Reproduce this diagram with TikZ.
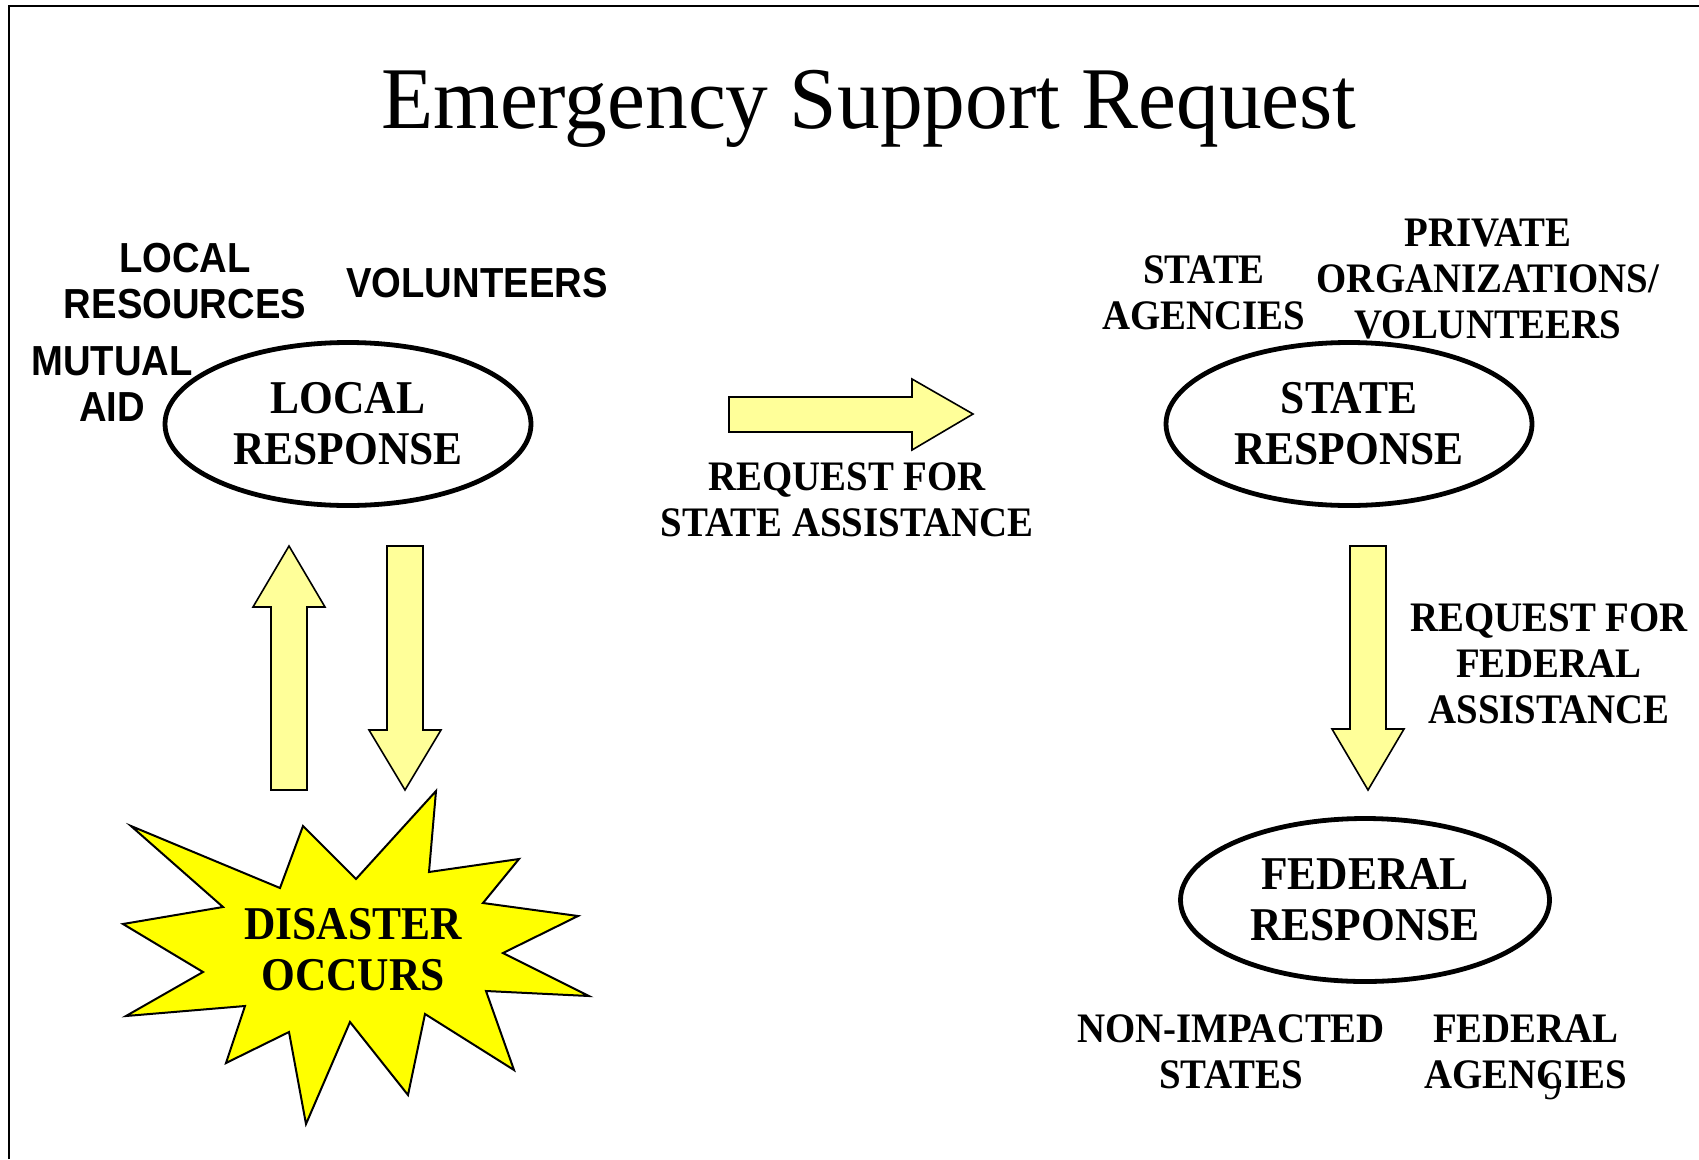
\documentclass[tikz,border=0pt]{standalone}
\usepackage{fontspec}
\setmainfont{Liberation Serif}
\newfontfamily\titleserif{Liberation Serif}[FakeStretch=0.97]
\newfontfamily\slideserif{Liberation Serif}[FakeStretch=0.925]
\newfontfamily\slidesans{Liberation Sans}[FakeStretch=0.91]
\usetikzlibrary{shapes}
\usepackage{xcolor}
\definecolor{pale}{HTML}{FFFF99}
\definecolor{burst}{HTML}{FFFF00}

\tikzset{
	heading/.style={inner sep=0pt, anchor=base, font=\titleserif\fontsize{88}{100}\selectfont},
	response/.style={ellipse, draw, line width=4.8pt, minimum width=366pt, minimum height=163pt, inner sep=0pt, align=center, font=\slideserif\bfseries\fontsize{47}{51}\selectfont},
	serifnote/.style={inner sep=0pt, align=center, font=\slideserif\bfseries\fontsize{42}{46}\selectfont},
	sansnote/.style={inner sep=0pt, align=center, font=\slidesans\bfseries\fontsize{42}{46}\selectfont},
	bigarrow/.style={draw, fill=pale, line width=1.6pt, line join=miter},
}

\begin{document}
\begin{tikzpicture}[x=1pt, y=-1pt]
			\fill[white] (0,0) rectangle (1699,1159);
			\useasboundingbox (0,0) rectangle (1699,1159);
			\draw[line width=2pt] (9,1159) -- (9,6) -- (1699,6);
			\node[heading] (title) at (869,128) {Emergency Support Request};
			\draw[bigarrow] (271,790) -- (271,607) -- (253,607) -- (289,546) -- (325,607) -- (307,607) -- (307,790) -- cycle;
			\draw[bigarrow] (387,546) -- (387,730) -- (369,730) -- (405,790) -- (441,730) -- (423,730) -- (423,546) -- cycle;
			\draw[bigarrow] (729,397) -- (912,397) -- (912,379) -- (973,414) -- (912,450) -- (912,432) -- (729,432) -- cycle;
			\draw[bigarrow] (1350,546) -- (1350,729) -- (1332,729) -- (1368,790) -- (1404,729) -- (1386,729) -- (1386,546) -- cycle;
			\draw[fill=burst, line width=2pt, line join=miter] (436,791) -- (429,872) -- (519,859) -- (483,903) -- (578,916) -- (503,953) -- (589,996) -- (486,991) -- (514,1070) -- (425,1014) -- (408,1095) -- (350,1022) -- (306,1124) -- (289,1032) -- (226,1063) -- (245,1006) -- (126,1016) -- (203,972) -- (123,924) -- (223,907) -- (131,826) -- (280,888) -- (303,826) -- (356,879) -- cycle;
			\node[serifnote, font=\slideserif\bfseries\fontsize{47}{51}\selectfont] (disaster) at (353,950) {DISASTER\\OCCURS};
			\node[response] (local) at (348,424) {LOCAL\\RESPONSE};
			\node[response] (state) at (1349,424) {STATE\\RESPONSE};
			\node[response, minimum width=369pt] (federal) at (1365,900) {FEDERAL\\RESPONSE};
			\node[sansnote] (resources) at (185,281) {LOCAL\\RESOURCES};
			\node[sansnote] (volunteers) at (477,283) {VOLUNTEERS};
			\node[sansnote] (mutual) at (112,384) {MUTUAL\\AID};
			\node[serifnote] (stateagencies) at (1204,293) {STATE\\AGENCIES};
			\node[serifnote] (private) at (1488,279) {PRIVATE\\ORGANIZATIONS/\\VOLUNTEERS};
			\node[serifnote] (staterequest) at (847,500) {REQUEST FOR\\STATE ASSISTANCE};
			\node[serifnote] (fedrequest) at (1549,664) {REQUEST FOR\\FEDERAL\\ASSISTANCE};
			\node[serifnote] (nonimpacted) at (1231,1052) {NON-IMPACTED\\STATES};
			\node[serifnote] (fedagencies) at (1526,1052) {FEDERAL\\AGENCIES};
			\node[inner sep=0pt, font=\slideserif\fontsize{40}{44}\selectfont] (pagenum) at (1553,1086) {9};
		\end{tikzpicture}
\end{document}
